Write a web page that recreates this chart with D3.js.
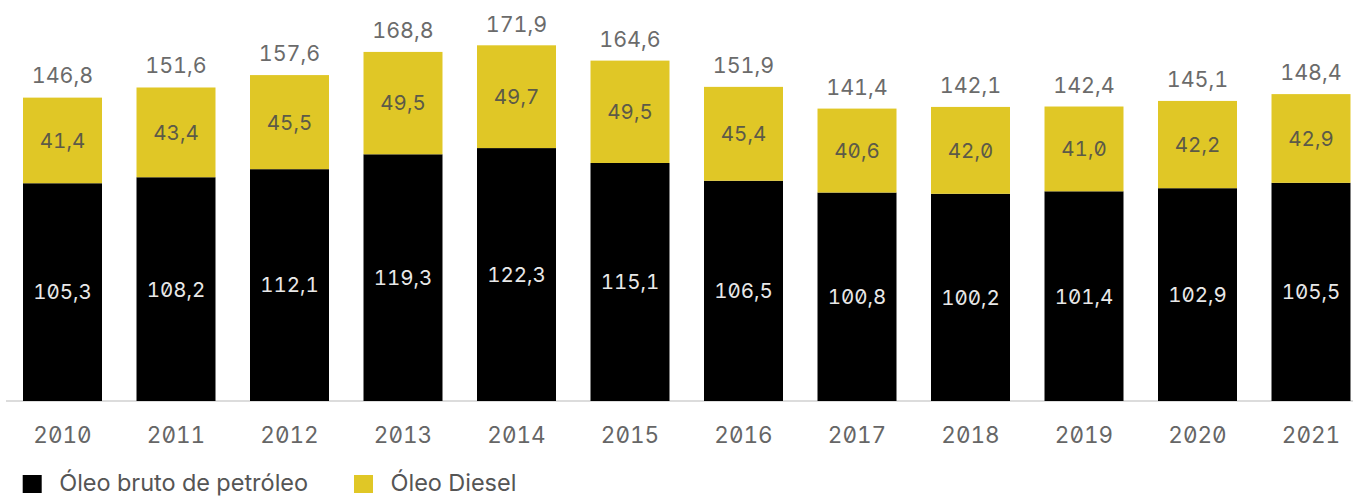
<!DOCTYPE html>
<html><head><meta charset="utf-8">
<script src="https://cdn.jsdelivr.net/npm/d3@7"></script>
<style>body{margin:0;background:#fff}svg{display:block}
text{font-feature-settings:"zero" 1,"tnum" 1;}</style>
</head><body>
<script>
const years = ["2010","2011","2012","2013","2014","2015","2016","2017","2018","2019","2020","2021"];
const crude = [105.3,108.2,112.1,119.3,122.3,115.1,106.5,100.8,100.2,101.4,102.9,105.5];
const diesel = [41.4,43.4,45.5,49.5,49.7,49.5,45.4,40.6,42.0,41.0,42.2,42.9];
const totals = [146.8,151.6,157.6,168.8,171.9,164.6,151.9,141.4,142.1,142.4,145.1,148.4];
const seriesNames = ["Óleo bruto de petróleo","Óleo Diesel"];
const colors = ["#000000","#e0c726"];

const W=1354,H=497;
const svg=d3.select("body").append("svg").attr("width",W).attr("height",H);
const font="Inter, 'Noto Sans', sans-serif";
const fmt=v=>d3.format(".1f")(v).replace(".",",");

const x=d3.scaleBand().domain(years).range([5.75,1367.75]).paddingInner(0.304).paddingOuter(0.152);
const y=d3.scaleLinear().domain([0,100]).range([401,401-206.8]);

const data=years.map((yr,i)=>({yr,crude:crude[i],diesel:diesel[i],total:totals[i]}));
const stack=d3.stack().keys(["crude","diesel"])(data);

svg.append("line").attr("x1",6).attr("x2",1353).attr("y1",401).attr("y2",401)
  .attr("stroke","#dcdcdc").attr("stroke-width",2);

stack.forEach((s,si)=>{
  svg.append("g").selectAll("rect").data(s).join("rect")
    .attr("x",d=>x(d.data.yr)).attr("width",x.bandwidth())
    .attr("y",d=>y(d[1])).attr("height",d=>y(d[0])-y(d[1]))
    .attr("fill",colors[si]);
  svg.append("g").selectAll("text").data(s).join("text")
    .attr("x",d=>x(d.data.yr)+x.bandwidth()/2)
    .attr("y",d=>(y(d[0])+y(d[1]))/2)
    .attr("dy","0.36em").attr("text-anchor","middle")
    .attr("font-family",font).attr("font-size",20.5)
    .attr("fill",si===0?"#e8e8e8":"#5c5a48")
    .text(d=>fmt(d[1]-d[0]));
});

svg.append("g").selectAll("text").data(data).join("text")
  .attr("x",d=>x(d.yr)+x.bandwidth()/2)
  .attr("y",d=>y(d.total)-14)
  .attr("text-anchor","middle").attr("font-family",font).attr("font-size",21.5)
  .attr("fill","#6b6b6b").text(d=>fmt(d.total));

const xa=svg.append("g").attr("transform","translate(0,401)")
  .call(d3.axisBottom(x).tickSize(0));
xa.select(".domain").remove();
xa.selectAll("text").attr("y",42).attr("dy",0)
  .attr("font-family",font).attr("font-size",22.5).attr("fill","#666");

const lg=svg.append("g");
const lx=[22.7,354];
seriesNames.forEach((n,i)=>{
  lg.append("rect").attr("x",lx[i]).attr("y",475).attr("width",19).attr("height",18).attr("fill",colors[i]);
  lg.append("text").attr("x",lx[i]+36.5).attr("y",491).attr("font-family",font).attr("font-size",23.5)
    .attr("fill","#555").text(n);
});
</script>
</body></html>
